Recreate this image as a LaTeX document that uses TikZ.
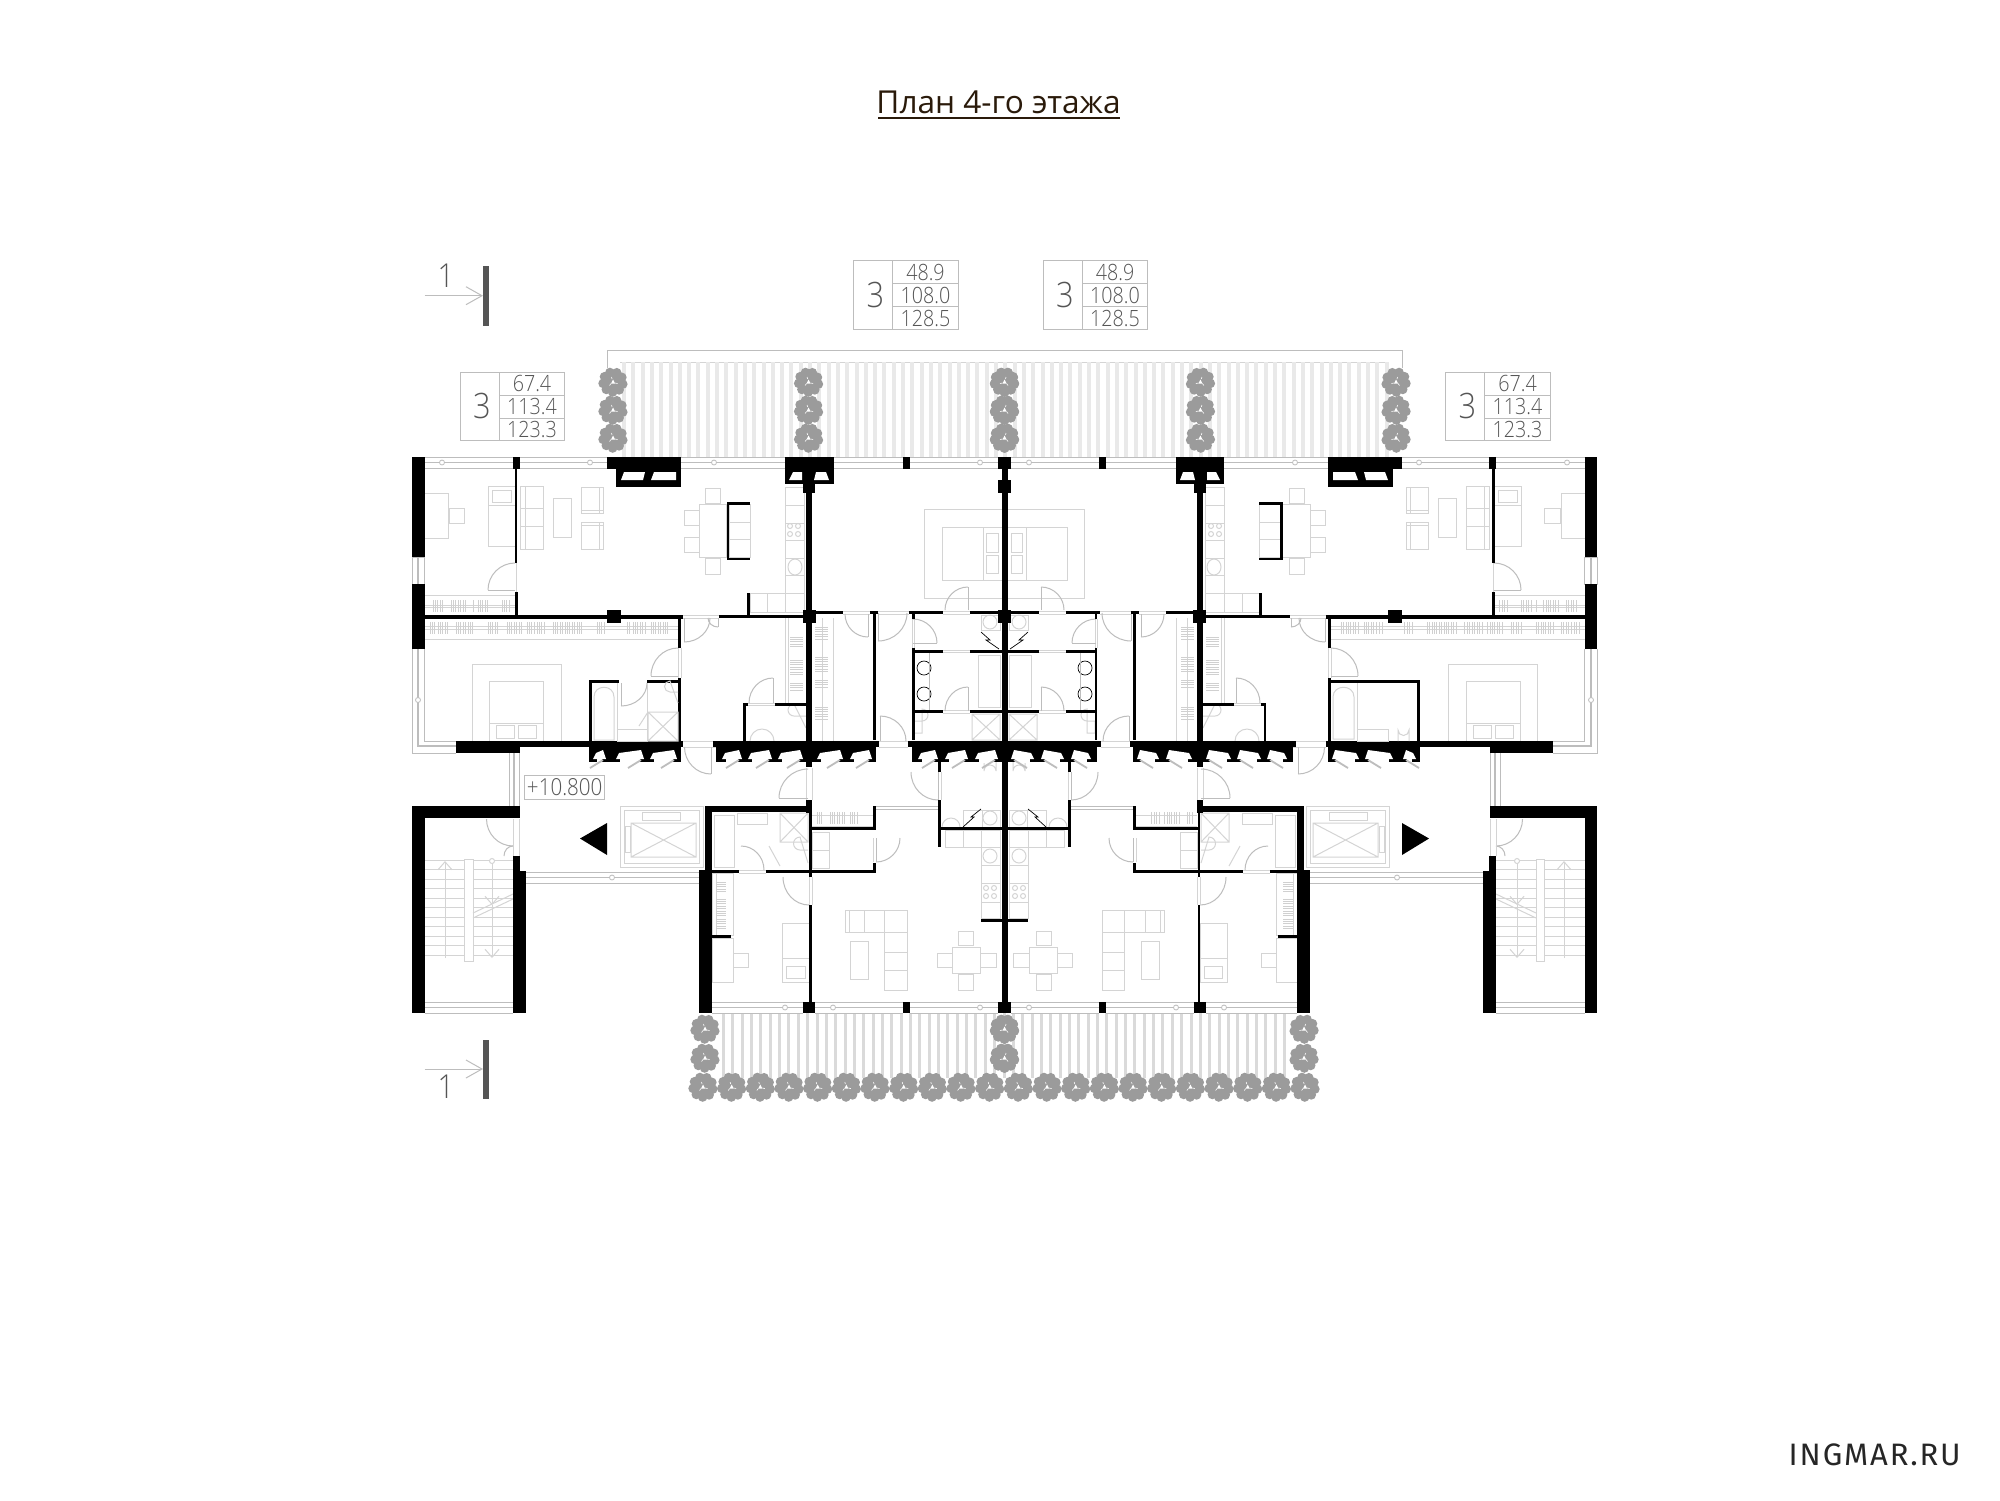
\documentclass[tikz,border=0pt]{standalone}
\usepackage{fontspec}
\usetikzlibrary{calc,arrows.meta}
\setmainfont{Open Sans}
\newfontfamily\lite[FakeStretch=0.88]{Open Sans Light}
\newfontfamily\logofont[LetterSpace=6]{Fira Sans}
\definecolor{fg}{HTML}{D4D4D4}
\definecolor{wg}{HTML}{BDBDBD}
\definecolor{treec}{HTML}{9B9B9B}
\definecolor{slatc}{HTML}{E9E9E9}
\definecolor{slatb}{HTML}{DADADA}
\definecolor{txt}{HTML}{555555}
\definecolor{hatchc}{HTML}{D0D0D0}
\definecolor{ttl}{HTML}{2A1A0A}
\tikzset{
 fur/.style={draw=fg,line width=0.5pt},
 gl/.style={draw=wg,line width=0.5pt},
 thinblk/.style={draw=black,line width=0.35pt},
 lab/.style={text=txt,font=\lite\fontsize{11.2}{12}\selectfont,inner sep=0pt},
 big/.style={text=txt,font=\lite\fontsize{17.5}{18}\selectfont,inner sep=0pt},
 frame/.style={draw=wg,line width=0.5pt,fill=white},
}
% wall block
\newcommand\wl[4]{\fill[black] (#1,#2) rectangle (#3,#4);}
% furniture box
\newcommand\bx[4]{\draw[fur] (#1,#2) rectangle (#3,#4);}
\newcommand\lnn[4]{\draw[fur] (#1,#2) -- (#3,#4);}
% door: centre, arc start A (free), B (leaf end)
\newcommand\door[6]{\draw[gl] (#1,#2) -- (#5,#6);
 \draw[gl] (#3,#4) .. controls ($(#3,#4)+0.5523*(#5,#6)-0.5523*(#1,#2)$) and ($(#5,#6)+0.5523*(#3,#4)-0.5523*(#1,#2)$) .. (#5,#6);}
% horizontal window
\newcommand\winh[3]{\draw[gl] (#1,#3-5.5) -- (#2,#3-5.5) (#1,#3+5.5) -- (#2,#3+5.5);
 \draw[draw=wg,line width=0.9pt] (#1,#3) -- (#2,#3);}
\newcommand\post[2]{\draw[draw=wg,fill=white,line width=0.4pt] (#1,#2) circle[radius=2.5];}
% tree
\newcommand\tree[2]{\begin{scope}[shift={(#1,#2)}]
 \fill[treec] (0,0) circle[radius=10];
 \foreach \a in {12,52,...,340} {\fill[treec] (\a:10) circle[radius=4.8];}
 \fill[white] (0,-2.5) -- (2,1.5) -- (-2,1.5) -- cycle;
 \draw[white,line width=0.3pt] (-1,-3) -- (-1.5,-5) (2,1) -- (4.5,1.5) (-2,1.5) -- (-3.5,3.5);
 \end{scope}}
% vent cut in shaft row
\newcommand\vent[2]{\fill[white] (#1,759) -- (#1+3,753) -- (#2-3,750) -- (#2,759) -- cycle;
 \fill[white] (#1+4,758) rectangle (#2-4,762.5);
 \draw[draw=wg,line width=0.9pt] (#2-3,760) -- (#2-16,768);}
% vertical hatch block
\newcommand\hh[4]{\pgfmathtruncatemacro\hcnt{(#3-#1)/2.4}\foreach \i in {0,...,\hcnt} {\draw[draw=hatchc,line width=0.4pt] (#1+\i*2.4,#2) -- (#1+\i*2.4,#4);}}
% horizontal hatch block
\newcommand\hv[4]{\pgfmathtruncatemacro\hcnt{(#4-#2)/2.4}\foreach \i in {0,...,\hcnt} {\draw[draw=hatchc,line width=0.4pt] (#1,#2+\i*2.4) -- (#3,#2+\i*2.4);}}
% counter hob
\newcommand\hob[2]{\draw[fur] (#1,#2) circle[radius=2.5] (#1+8,#2) circle[radius=2.5] (#1,#2+8) circle[radius=2.5] (#1+8,#2+8) circle[radius=2.5];}
% X box
\newcommand\xbox[4]{\draw[fur] (#1,#2) rectangle (#3,#4) (#1,#2) -- (#3,#4) (#1,#4) -- (#3,#2);}
% area table
\newcounter{tb}
\newcommand\areabox[5]{\stepcounter{tb}
 \draw[frame] (#1,#2) rectangle (#1+104.5,#2+68.5);
 \draw[gl] (#1+39,#2) -- (#1+39,#2+68.5) (#1+39,#2+23) -- (#1+104.5,#2+23) (#1+39,#2+46) -- (#1+104.5,#2+46);
 \node[big] (n\thetb) at (#1+22,#2+34) {3};
 \node[lab] (a\thetb) at (#1+72,#2+11.5) {#3};
 \node[lab] (b\thetb) at (#1+72,#2+34.5) {#4};
 \node[lab] (c\thetb) at (#1+72,#2+57.5) {#5};}

\newcommand\lefthalf{
 % ---------- top apartment furniture
 \bx{424}{493}{448}{538} \bx{449}{508}{464.5}{523}
 \bx{488}{486}{516}{546} \bx{492}{490}{511}{502} \lnn{488}{505}{516}{505}
 \bx{520}{486}{543}{549} \lnn{525}{486}{525}{549} \lnn{520}{508}{543}{508} \lnn{520}{526}{543}{526}
 \bx{553}{498}{571}{537}
 \bx{581}{487}{603}{513} \lnn{599}{487}{599}{513} \lnn{581}{510}{603}{510}
 \bx{581}{522}{603}{549} \lnn{599}{522}{599}{549} \lnn{581}{525}{603}{525}
 \bx{699}{504}{726.5}{557}
 \bx{684}{510}{699}{525} \bx{684}{537}{699}{552}
 \bx{705}{488}{720}{503} \bx{705}{558}{720}{574}
 \bx{729}{504}{750}{557} \lnn{729}{522}{750}{522} \lnn{729}{539}{750}{539}
 % kitchen
 \bx{785}{487}{804}{612}
 \foreach \q in {505,523,540,558,575,593} {\lnn{785}{\q}{804}{\q}}
 \hob{790}{526} \draw[fur] (795,567) ellipse[x radius=7,y radius=8];
 \bx{750}{593}{785}{612} \lnn{767}{593}{767}{612}
 % bed centre
 \bx{924.5}{509}{1002}{598} \bx{942}{527}{1002}{580} \lnn{983}{527}{983}{580}
 \bx{986.5}{533}{998}{552} \bx{986.5}{555}{998}{573}
 \door{968}{610}{945}{610}{968}{587}
 % wardrobes upper
 \lnn{424}{595}{516}{595} \lnn{424}{605}{516}{605} \lnn{424}{607}{516}{607}
 \hh{433}{600}{443}{612} \hh{451}{600}{466}{612} \hh{473}{600}{475}{612} \hh{478}{600}{489}{612} \hh{502}{600}{510}{612}
 \lnn{424}{626}{678}{626} \lnn{424}{629}{678}{629} \lnn{424}{639}{678}{639}
 \hh{430}{622}{435}{634} \hh{438}{622}{448}{634} \hh{456}{622}{473}{634} \hh{488}{622}{498}{634} \hh{507}{622}{522}{634}
 \hh{527}{622}{535}{634} \hh{537}{622}{545}{634} \hh{553}{622}{584}{634} \hh{597}{622}{605}{634} \hh{627}{622}{630}{634} \hh{633}{622}{645}{634} \hh{651}{622}{669}{634}
 % bedroom
 \bx{472}{664}{561}{741} \bx{489}{681}{543}{741} \lnn{489}{723}{543}{723}
 \bx{496}{725}{514}{738} \bx{518}{725}{536}{738}
 % wardrobes along party wall
 \lnn{785}{618}{785}{703} \lnn{788}{618}{788}{703}
 \hv{790}{637}{803}{648} \hv{790}{660}{803}{675} \hv{790}{683}{803}{692}
 \lnn{822}{618}{822}{741} \lnn{833}{618}{833}{741}
 \hv{815}{627}{828}{640} \hv{815}{657}{828}{672} \hv{815}{680}{828}{688} \hv{815}{707}{828}{720}
 % small bath by party wall
 \draw[fur] (806,716) -- (794,716) arc[start angle=90,end angle=270,radius=6] -- (806,728);
 \draw[fur] (750,741) arc[start angle=180,end angle=360,radius=12];
 % centre bath
 \draw[black,line width=0.35pt] (924,668) circle[radius=7] (924,694) circle[radius=7];
 \draw[gl] (929,652) -- (929,710);
 \bx{978}{655}{1000}{707}
 \draw[fur] (914,721) rectangle (922,733) (922,721) arc[start angle=90,end angle=-90,radius=6] -- cycle;
 \xbox{972}{714}{1000}{740}
 \bx{981}{615}{1000}{630} \draw[fur] (990,622) circle[radius=7];
 \draw[thinblk] (981,632) -- (990,640) -- (986,640) -- (999,649);
 % centre lower kitchen
 \draw[fur] (984,762) -- (984,771) arc[start angle=180,end angle=360,radius=6] -- (996,762);
 \bx{982}{810}{1000}{827} \draw[fur] (990,818) circle[radius=7];
 \bx{963}{810}{982}{827}
 \draw[thinblk] (981,809) -- (971,817) -- (974,817) -- (963,827);
 \draw[fur] (942,827) arc[start angle=180,end angle=360,radius=9];
 \bx{945}{830}{1000}{847} \lnn{963}{830}{963}{847} \lnn{981}{830}{981}{847}
 \bx{981}{847}{1000}{918} \foreach \q in {865,883,902} {\lnn{981}{\q}{1000}{\q}}
 \draw[fur] (990,856) circle[radius=7]; \hob{986}{888}
 % lower apartment bath
 \bx{714}{815}{734}{867} \bx{737}{813}{767}{824}
 \xbox{780}{813}{808}{842}
 \draw[fur] (808,850) -- (800,850) arc[start angle=90,end angle=270,radius=6.5] -- (808,863);
 \lnn{769}{846}{780}{866} \door{741}{870}{741}{846}{764}{870}
 % closet lower
 \lnn{812}{815}{873}{815} \lnn{812}{826}{873}{826}
 \hh{830}{812}{845}{824} \hh{817}{812}{824}{824} \hh{850}{812}{858}{824}
 \bx{812}{832}{829}{868} \lnn{812}{850}{829}{850}
 \door{809}{877}{783}{877}{809}{905}
 % lower wardrobe, desk, bed
 \bx{712}{873}{733}{935} \lnn{716}{873}{716}{935} \hv{716}{882}{726}{892} \hv{716}{899}{726}{917} \hv{716}{919}{726}{930}
 \bx{712}{938}{733}{982} \bx{733}{953}{748}{967}
 \bx{782}{923}{809}{982} \lnn{782}{958}{809}{958} \bx{786.5}{966}{805}{978}
 % sofa etc
 \draw[fur] (845,910) -- (907,910) -- (907,990) -- (884.5,990) -- (884.5,932) -- (845,932) -- cycle;
 \lnn{884.5}{910}{884.5}{932} \lnn{864}{910}{864}{932} \lnn{884.5}{932}{907}{932} \lnn{884.5}{952}{907}{952} \lnn{884.5}{970}{907}{970} \lnn{849}{910}{849}{932}
 \bx{850}{941}{868}{979}
 \bx{952}{947}{980}{973} \bx{937}{953}{952}{967} \bx{980}{953}{996}{967} \bx{958}{931}{973}{945} \bx{958}{974}{973}{990}
 % windows top
 \winh{424.5}{513}{462.5} \winh{520}{607}{462.5} \winh{681}{785}{462.5} \winh{833}{903}{462.5} \winh{910}{998}{462.5}
 \post{442}{462.5} \post{590}{462.5} \post{714}{462.5} \post{980}{462.5}
 % side window upper
 \draw[gl] (412,557) rectangle (424.5,584); \draw[draw=wg,line width=0.7pt] (418,557) -- (418,584);
 % side window bedroom
 \draw[gl] (412,649) -- (412,753) -- (456,753) (424.5,649) -- (424.5,741) -- (456,741);
 \draw[draw=wg,line width=0.9pt] (418,649) -- (418,746) -- (456,746);
 \post{418}{700}
 % entry window, hall
 \draw[gl] (509,753) -- (509,806) (519,753) -- (519,806); \draw[draw=wg,line width=0.9pt] (514,753) -- (514,806);
 % door thresholds
 \draw[fur] (843,611) -- (870,611) (843,614) -- (870,614) (878,611) -- (909,611) (878,614) -- (909,614)
 (943,611) -- (970,611) (943,614) -- (970,614) (943,650) -- (970,650) (943,652) -- (970,652) (943,710) -- (970,710) (943,713) -- (970,713)
 (879,741) -- (908,741) (879,747) -- (908,747) (683,741) -- (716,741) (683,747) -- (716,747) (806,768) -- (806,800) (812,768) -- (812,800)
 (683,615) -- (719,615) (683,618) -- (719,618) (678,648) -- (678,678) (681,648) -- (681,678)
 (739,870) -- (766,870) (739,873) -- (766,873) (748,703) -- (775,703) (748,705) -- (775,705) (809,877) -- (809,905) (812,877) -- (812,905)
 (516,562) -- (516,592) (938,772) -- (938,800) (941,772) -- (941,800) (873,838) -- (873,862) (876,838) -- (876,862) (912,619) -- (912,648) (914,619) -- (914,648);
 \draw[gl] (876,806) -- (938,806) (876,809) -- (938,809);
 \door{868}{614}{845}{614}{868}{637}
 \door{878}{613}{907}{613}{878}{641}
 \door{913}{643}{913}{619}{937}{643}
 \door{880}{741}{906}{741}{880}{716}
 \door{968}{711}{945}{711}{968}{687}
 \door{938}{772}{911}{772}{938}{800}
 \door{876}{838}{900}{838}{876}{862}
 \door{808}{798}{808}{769}{779}{798}
 \door{711}{747}{684.5}{747}{711}{774}
 \door{684}{618}{710}{618}{684}{642}
 \door{718}{618}{708}{618}{718}{627}
 \door{515}{590}{515}{563}{488}{590}
 \door{678}{676}{678}{648}{651}{676}
 \door{773}{703}{749}{703}{773}{678}
 % lift
 \draw[fur] (620,806) rectangle (703,867); \draw[fur] (624,810) rectangle (699,863);
 \bx{642}{812}{680}{820} \xbox{631}{823}{696}{857}
 \bx{625}{826}{630}{852}
 \fill[black] (580,838.5) -- (607,823) -- (607,855) -- cycle;
 % corridor window
 \winh{526}{700}{877.5} \post{612}{877.5}
 % stair
 \foreach \q in {860,869.5,...,958} {\lnn{424.5}{\q}{513}{\q}}
 \draw[fill=white,draw=fg,line width=0.5pt] (464.5,859) rectangle (473,961);
 \lnn{473}{918}{513}{899} \lnn{473}{913}{513}{894}
 \draw[fur,-{Straight Barb[length=4pt,width=7pt]}] (445,958) -- (445,861);
 \draw[fur,-{Straight Barb[length=4pt,width=7pt]}] (492,864) -- (492,905);
 \draw[fur,-{Straight Barb[length=4pt,width=7pt]}] (492,905) -- (492,958);
 \draw[fur,fill=white] (492,861) circle[radius=2.5];
 \door{513}{819}{486.5}{819}{513}{846} \door{513}{856}{504}{856}{513}{846}
 \draw[fur] (513,819) -- (513,856) (519,819) -- (519,856);
 \winh{424.5}{513}{1007.5}
 % bottom windows
 \winh{712}{803}{1007.5} \winh{815}{903}{1007.5} \winh{910}{998}{1007.5}
 \post{785}{1007.5} \post{833}{1007.5} \post{980}{1007.5}
 % ---------- walls
 \wl{412}{457}{424.5}{557} \wl{412}{584}{424.5}{649}
 \wl{513}{457}{520}{469} \wl{514.5}{469}{517}{563} \wl{514.5}{592}{517.5}{617}
 \wl{424}{615}{683}{618.5} \wl{607}{610}{621}{623}
 \wl{719}{615}{803}{618} \wl{747}{593}{750}{616}
 \wl{607}{457}{681}{469} \wl{616}{469}{681}{487}
 \fill[white] (621,480) -- (624,472) -- (645,472) -- (643,480) -- cycle;
 \fill[white] (651,480) -- (654,472) -- (676,472) -- (676,480) -- cycle;
 \wl{785}{457}{833.5}{469} \wl{785}{469}{833.5}{484} \wl{803}{484}{815}{493}
 \fill[white] (789,480) -- (793,472) -- (802,472) -- (802,480) -- cycle;
 \fill[white] (814,480) -- (816,472) -- (826,472) -- (829,480) -- cycle;
 \wl{903}{457}{910}{469} \wl{998}{457}{1011}{469} \wl{998}{480}{1011}{493} \wl{998}{610}{1011}{623}
 \wl{726.5}{502}{750}{504.5} \wl{726.5}{502}{729}{560} \wl{726.5}{557.5}{750}{560}
 % party wall
 \wl{806}{469}{812}{767} \wl{803}{610}{816}{623} \wl{806}{800}{812}{813} \wl{809}{812}{811.5}{877} \wl{809}{905}{811.5}{1002}
 % row at 612
 \wl{815}{611}{843}{614} \wl{870}{611}{878}{614} \wl{909}{611}{943}{614} \wl{970}{611}{1002}{614}
 \wl{873}{612}{876}{740}
 \wl{912}{612}{914.5}{619} \wl{912}{648}{914.5}{740}
 \wl{914}{650}{943}{652.5} \wl{970}{650}{1002}{652.5} \wl{914}{710}{943}{713} \wl{970}{710}{1002}{713}
 % bedroom bath walls
 \wl{678}{618}{681}{648} \wl{678}{678}{681}{741} \wl{589}{680}{592}{741}
 \wl{743}{703}{745.5}{741} \wl{743}{703}{748}{705.5} \wl{775}{703}{806}{705.5}
 % thick row 741
 \wl{519}{741}{683}{747} \wl{456}{741}{519.5}{753} \wl{713}{741}{879}{747} \wl{908}{741}{1002}{747}
 % vent rows
 \wl{589}{747}{681}{762} \wl{716}{747}{810}{762} \wl{810}{747}{876}{762} \wl{912}{747}{1002}{762}
 \vent{593}{606} \vent{616}{644} \vent{650}{677}
 \vent{722}{742} \vent{748}{772} \vent{778}{803}
 \vent{817}{843} \vent{850}{872}
 \vent{918}{938} \vent{945}{968} \vent{975}{998}
 \wl{806}{762}{812}{767}
 % centre lower
 \wl{938}{762}{941}{772} \wl{938}{800}{941}{847} \wl{940}{827}{1002}{830}
 \wl{873}{806}{876}{828} \wl{873}{863}{876}{873}
 \wl{810}{827}{876}{830} \wl{705}{806}{808}{812} \wl{705}{806}{712}{870} \wl{699}{870}{712}{1013}
 \wl{712}{870}{739}{873} \wl{766}{870}{876}{873} \wl{712}{935}{731}{938}
 \wl{803}{1002}{815}{1013} \wl{903}{1002}{910}{1013} \wl{998}{1002}{1011}{1013}
 \wl{981}{919}{1002}{922}
 % stair walls
 \wl{412}{806}{519.5}{818} \wl{412}{806}{424.5}{1013} \wl{513}{871}{525.7}{1013} \wl{513}{856}{520}{871}
 % plants
 \foreach \y in {382,410,438} {\tree{613}{\y} \tree{808.6}{\y} \tree{1004.5}{\y}}
 \foreach \y in {1029,1058} {\tree{705}{\y} \tree{1004.5}{\y}}
}
\begin{document}
\begin{tikzpicture}[x=0.5pt,y=-0.5pt]
\useasboundingbox (0,0) rectangle (2000,1500);
\fill[white] (0,0) rectangle (2000,1500);
% terraces
\draw[gl] (607,368) -- (607,350) -- (1402,350) -- (1402,368);
\draw[fur] (620,362) -- (1389,362);
\foreach \q in {622,631.3,...,1386} {\fill[slatc] (\q,362) rectangle (\q+4,457);}
\foreach \q in {722,731.35,...,1288} {\fill[slatb] (\q,1013) rectangle (\q+3,1078);}
% left half and mirrored
\lefthalf
\begin{scope}[shift={(2009,0)},xscale=-1]
\lefthalf
\end{scope}
% centre wall
\wl{1002}{457}{1008}{1002}
\wl{1004}{919}{1028}{922}
\foreach \q in {0,1,...,21} {\tree{703+28.67*\q}{1087}}
% left upper bath
\wl{589}{680}{619}{683} \wl{647}{680}{680}{683}
\draw[fur] (594,740) -- (594,697) .. controls (594,684) and (614,684) .. (614,697) -- (614,740) -- cycle;
\lnn{617}{683}{617}{741} \bx{617}{729}{647}{741} \door{621}{683}{647}{683}{621}{706}
\draw[fur] (678,692) -- (670,692) arc[start angle=90,end angle=270,radius=5.5] -- (678,703);
\xbox{648}{712}{678}{741} \lnn{639}{726}{648}{712} \lnn{647}{683}{647}{741}
% right upper bath
\wl{1330}{680}{1420}{683}
\draw[fur] (1333,739) -- (1333,697) .. controls (1333,684) and (1354,684) .. (1354,697) -- (1354,739) -- cycle;
\bx{1357}{729}{1388}{741}
\draw[fur] (1398,741) -- (1398,730) arc[start angle=180,end angle=0,radius=5.5] -- (1409,741);
\lnn{1357}{683}{1357}{741}
% section marks
\fill[txt] (483,266) rectangle (489,326);
\draw[gl,-{Straight Barb[length=8pt,width=9pt]}] (424.5,295.7) -- (483,295.7);
\node[text=txt,font=\lite\fontsize{16.5}{17}\selectfont,inner sep=0pt] (s1) at (446,276) {1};
\fill[txt] (483,1040) rectangle (489,1099);
\draw[gl,-{Straight Barb[length=8pt,width=9pt]}] (424.5,1069) -- (483,1069);
\node[text=txt,font=\lite\fontsize{16.5}{17}\selectfont,inner sep=0pt] (s2) at (446,1087) {1};
% tables
\areabox{853.5}{260.7}{48.9}{108.0}{128.5}
\areabox{1043}{260.7}{48.9}{108.0}{128.5}
\areabox{460}{372}{67.4}{113.4}{123.3}
\areabox{1445.5}{372}{67.4}{113.4}{123.3}
% level
\node[draw=wg,line width=0.5pt,text=txt,font=\lite\fontsize{11.7}{12}\selectfont,minimum width=40pt,minimum height=12pt,inner sep=0pt] (lev) at (564.7,787) {+10.800};
% title
\node[text=ttl,font=\fontsize{15.8}{18}\selectfont,inner sep=0pt,anchor=base] (title) at (998.5,113) {План 4-го этажа};
\draw[draw=ttl,line width=0.85pt] (878,118) -- (1120,118);
\node[text=black!85,font=\logofont\fontsize{15.5}{18}\selectfont,anchor=base east,inner sep=0pt] (logo) at (1961,1465) {INGMAR.RU};
\end{tikzpicture}
\end{document}
